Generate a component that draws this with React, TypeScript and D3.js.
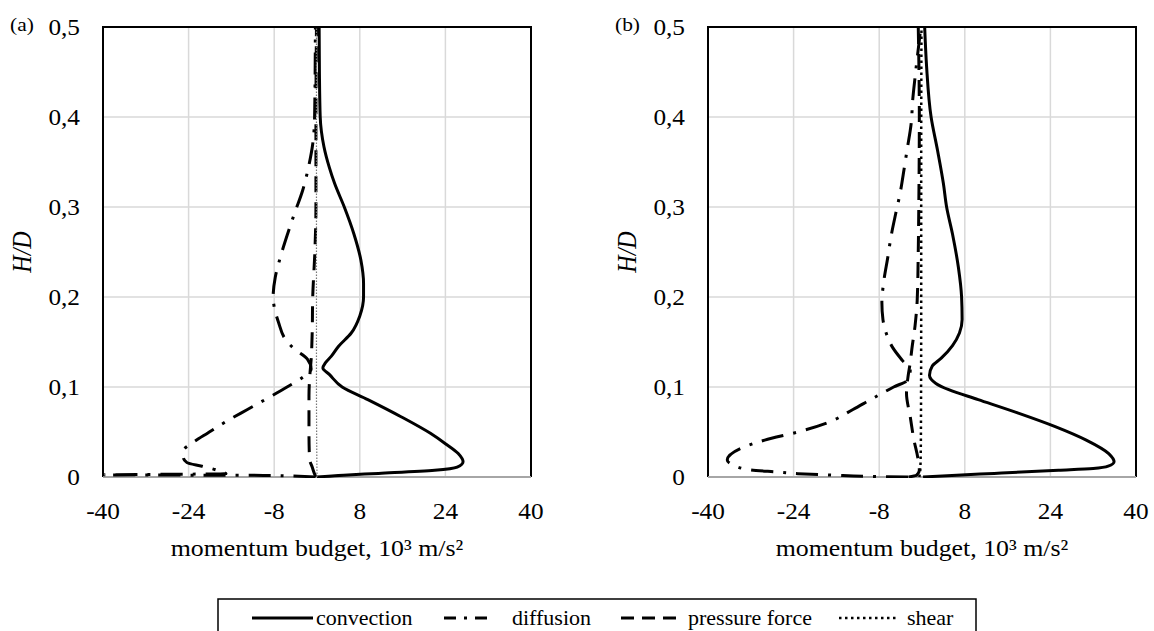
import React from 'react';
import * as d3 from 'd3';

// [H/D, momentum budget (10^3 m/s^2)], sorted by H/D
const convectionA: [number, number][] = [
  [0, 0], [0.002, 5], [0.004, 11.5], [0.0075, 22], [0.011, 26.2], [0.017, 27.3], [0.026, 26.4],
  [0.037, 24.0], [0.0485, 21.2], [0.067, 15.7], [0.086, 9.5], [0.1, 4.7], [0.114, 2.3], [0.121, 1.1],
  [0.127, 1.6], [0.134, 2.65], [0.145, 4.0], [0.16, 6.4], [0.179, 8.0], [0.2, 8.7], [0.215, 8.7],
  [0.241, 8.2], [0.27, 6.9], [0.3, 5.1], [0.326, 3.3], [0.344, 2.3], [0.367, 1.3], [0.4, 0.6],
  [0.45, 0.45], [0.5, 0.4],
];
const diffusionA: [number, number][] = [
  [0, -0.3], [0.0018, -10], [0.0024, -40], [0.0036, -17], [0.006, -18], [0.009, -19.5], [0.012, -21.5],
  [0.016, -24.3], [0.022, -25.0], [0.03, -24.9], [0.037, -23.5], [0.049, -20.4], [0.063, -16.6],
  [0.075, -13.0], [0.086, -9.7], [0.1, -5.6], [0.11, -2.85], [0.12, -1.1], [0.131, -1.8], [0.142, -4.2],
  [0.153, -5.9], [0.172, -7.2], [0.189, -8.0], [0.2, -8.2], [0.222, -7.8], [0.241, -7.0], [0.27, -5.5],
  [0.293, -4.2], [0.318, -2.7], [0.344, -1.6], [0.37, -0.8], [0.4, -0.45], [0.5, -0.3],
];
const pressureA: [number, number][] = [
  [0, -0.2], [0.004, -0.5], [0.011, -0.9], [0.02, -1.4], [0.05, -1.5], [0.09, -1.5], [0.116, -1.3],
  [0.13, -1.1], [0.16, -0.9], [0.2, -0.8], [0.25, -0.4], [0.3, -0.2], [0.4, -0.2], [0.5, -0.1],
];
const shearA: [number, number][] = [
  [0, 0], [0.1, -0.1], [0.2, -0.1], [0.3, -0.1], [0.4, -0.1], [0.5, -0.1],
];

const convectionB: [number, number][] = [
  [0, 0.2], [0.002, 6.5], [0.004, 13.5], [0.0075, 25.5], [0.0095, 32], [0.012, 34.8], [0.017, 35.9],
  [0.026, 34.9], [0.041, 30.7], [0.056, 24.9], [0.071, 18.0], [0.086, 10.5], [0.097, 5.0], [0.104, 2.6],
  [0.113, 1.4], [0.123, 1.9], [0.132, 3.6], [0.146, 5.7], [0.16, 7.0], [0.175, 7.5], [0.2, 7.4],
  [0.233, 6.8], [0.27, 5.7], [0.3, 4.6], [0.326, 4.0], [0.363, 2.9], [0.4, 1.7], [0.456, 0.86], [0.5, 0.5],
];
const diffusionB: [number, number][] = [
  [0, -2.6], [0.0007, -9.4], [0.002, -16.3], [0.0037, -23.2], [0.0056, -27.3], [0.008, -32.1],
  [0.013, -35.2], [0.019, -36.4], [0.032, -33.8], [0.041, -29.4], [0.05, -23.2], [0.06, -17.8],
  [0.075, -12.9], [0.086, -9.6], [0.1, -5.3], [0.108, -2.6], [0.119, -2.2], [0.129, -3.6], [0.144, -5.5],
  [0.16, -6.7], [0.175, -7.3], [0.194, -7.5], [0.215, -7.2], [0.244, -6.4], [0.27, -5.7], [0.293, -4.9],
  [0.315, -4.1], [0.344, -3.3], [0.363, -2.8], [0.394, -2.0], [0.418, -1.75], [0.444, -1.3], [0.5, -0.2],
];
const pressureB: [number, number][] = [
  [0, -2.5], [0.002, -1.0], [0.0075, -0.5], [0.022, -0.8], [0.041, -1.5], [0.067, -2.2], [0.093, -2.9],
  [0.112, -2.6], [0.127, -2.2], [0.142, -1.9], [0.168, -1.3], [0.196, -0.9], [0.25, -0.7], [0.3, -0.6],
  [0.4, -0.5], [0.5, -0.7],
];
const shearB: [number, number][] = [
  [0, -0.5], [0.01, -0.3], [0.05, -0.2], [0.2, -0.15], [0.35, -0.15], [0.5, -0.1],
];

const seriesNames = ['convection', 'diffusion', 'pressure force', 'shear'];
const xTicks = [-40, -24, -8, 8, 24, 40];
const yTicks = [0, 0.1, 0.2, 0.3, 0.4, 0.5];
const panelLabels = ['(a)', '(b)'];

const FONT = '"Liberation Serif", Tinos, "Times New Roman", Times, serif';
const SX = 1.1; // source figure text is slightly wide

const styles = [
  { dash: undefined, legendDash: undefined, width: 3 },
  { dash: '22,10,3,10', legendDash: '12,8,3,8', width: 3 },
  { dash: '16,10', legendDash: '13,8', width: 3 },
  { dash: '2.5,3.5', legendDash: '2.5,3.5', width: 2.5 },
];

const T = ({ x, y, size, anchor = 'start', italic = false, rot = false, children }: any) => (
  <text
    transform={`translate(${x},${y}) scale(${SX},1)${rot ? ' rotate(-90)' : ''}`}
    style={{ fontFamily: FONT, fontSize: size, fontStyle: italic ? 'italic' : 'normal' }}
    textAnchor={anchor}
    fill="#000"
  >
    {children}
  </text>
);

const Panel = ({ idx, left, data }: { idx: number; left: number; data: [number, number][][] }) => {
  const top = 27;
  const bottom = 477;
  const right = left + 428;
  const x = d3.scaleLinear().domain([-40, 40]).range([left, right]);
  const y = d3.scaleLinear().domain([0, 0.5]).range([bottom, top]);
  const line = d3
    .line<[number, number]>()
    .x((d) => x(d[1]))
    .y((d) => y(d[0]))
    .curve(d3.curveMonotoneY);
  const clipId = `clip-${idx}`;
  return (
    <g>
      <clipPath id={clipId}>
        <rect x={left} y={top - 2} width={right - left} height={bottom - top + 3} />
      </clipPath>
      {xTicks.slice(1, -1).map((t) => (
        <line key={'gx' + t} x1={x(t)} x2={x(t)} y1={top} y2={bottom} stroke="#d9d9d9" strokeWidth={1.5} />
      ))}
      {yTicks.slice(1, -1).map((t) => (
        <line key={'gy' + t} x1={left} x2={right} y1={y(t)} y2={y(t)} stroke="#d9d9d9" strokeWidth={1.5} />
      ))}
      <path d={`M${left},${bottom}V${top}H${right}V${bottom}`} fill="none" stroke="#000" strokeWidth={2} />
      <line x1={left} x2={right} y1={bottom} y2={bottom} stroke="#a6a6a6" strokeWidth={2} />
      <g clipPath={`url(#${clipId})`}>
        {data.map((s, i) => {
          // the shear trace in (a) shows up as a faint fine dotted line
          const faint = idx === 0 && i === 3;
          return (
            <path
              key={i}
              d={line(s) || ''}
              fill="none"
              stroke={faint ? '#777' : '#000'}
              strokeWidth={faint ? 1.2 : styles[i].width}
              strokeDasharray={faint ? '1.5,1.5' : styles[i].dash}
            />
          );
        })}
      </g>
      {yTicks.map((t) => (
        <T key={'ty' + t} x={left - 23} y={y(t) + 7.5} size={23} anchor="end">
          {t === 0 ? '0' : d3.format('.1f')(t).replace('.', ',')}
        </T>
      ))}
      {xTicks.map((t) => (
        <T key={'tx' + t} x={x(t)} y={519} size={23} anchor="middle">
          {String(t)}
        </T>
      ))}
      <T x={(left + right) / 2} y={556} size={23.5} anchor="middle">
        momentum budget, 10³ m/s²
      </T>
      <T x={left - 72} y={252} size={24} anchor="middle" italic rot>
        H/D
      </T>
      <T x={left - 93} y={31} size={19.5}>
        {panelLabels[idx]}
      </T>
    </g>
  );
};

export default function App() {
  const legendItems = [
    { x0: 252, x1: 313, tx: 316 },
    { x0: 444, x1: 491, tx: 512 },
    { x0: 621, x1: 683, tx: 688 },
    { x0: 839, x1: 897, tx: 907 },
  ];
  return (
    <svg
      width={1154}
      height={631}
      style={{ position: 'absolute', left: 0, top: 0, background: '#fff' }}
    >
      <rect width={1154} height={631} fill="#fff" />
      <Panel idx={0} left={103} data={[convectionA, diffusionA, pressureA, shearA]} />
      <Panel idx={1} left={708} data={[convectionB, diffusionB, pressureB, shearB]} />
      <rect x={218} y={599} width={758} height={60} fill="#fff" stroke="#000" strokeWidth={1.5} />
      {seriesNames.map((name, i) => (
        <g key={name}>
          <line
            x1={legendItems[i].x0}
            x2={legendItems[i].x1}
            y1={618}
            y2={618}
            stroke="#000"
            strokeWidth={styles[i].width}
            strokeDasharray={styles[i].legendDash}
          />
          <T x={legendItems[i].tx} y={625} size={20}>
            {name}
          </T>
        </g>
      ))}
    </svg>
  );
}
